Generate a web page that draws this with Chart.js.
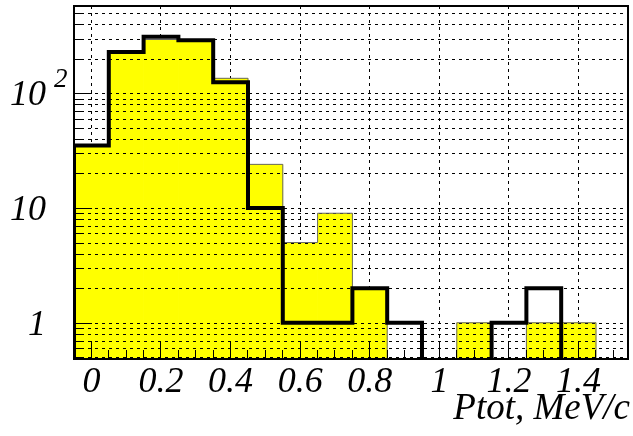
<!DOCTYPE html>
<html>
<head>
<meta charset="utf-8">
<script src="https://cdn.jsdelivr.net/npm/chart.js@4"></script>
<style>
  html, body { margin: 0; padding: 0; background: #fff; }
  canvas { display: block; }
</style>
</head>
<body>
<canvas id="c" width="633" height="436"></canvas>
<script>
// Momentum histogram: bin centres (MeV/c), bin width 0.1
const binCenters = [0, 0.1, 0.2, 0.3, 0.4, 0.5, 0.6, 0.7, 0.8, 0.9, 1.0, 1.1, 1.2, 1.3, 1.4, 1.5];
const binWidth = 0.1;
// Filled (yellow) histogram counts
const filledCounts = [35, 225, 294, 285, 135, 24, 5, 9, 2, 0, 0, 1, 0, 1, 1, 0];
// Outline (black) histogram counts
const outlineCounts = [35, 229, 311, 290, 125, 10, 1, 1, 2, 1, 0, 0, 1, 2, 0, 0];

// Axis ticks and labels
const xTickValues = [0, 0.2, 0.4, 0.6, 0.8, 1.0, 1.2, 1.4];
const xTickLabels = ['0', '0.2', '0.4', '0.6', '0.8', '1', '1.2', '1.4'];
const xMinorValues = [-0.05, 0.05, 0.1, 0.15, 0.25, 0.3, 0.35, 0.45, 0.5, 0.55, 0.65, 0.7, 0.75,
  0.85, 0.9, 0.95, 1.05, 1.1, 1.15, 1.25, 1.3, 1.35, 1.45, 1.5];
const yMajorValues = [1, 10, 100];
const yTickLabels = ['1', '10', '10'];
const yTickExponents = ['', '', '2'];
const xTitle = 'Ptot, MeV/c';
const xRange = [-0.05, 1.542];
const yRange = [0.483, 576];

// Log grid values: 1..9 times each decade inside the axis range
const yGridValues = [];
[0.1, 1, 10, 100].forEach(d => {
  for (let m = 1; m <= 9; m++) {
    const v = +(m * d).toPrecision(3);
    if (v >= yRange[0] && v <= yRange[1]) yGridValues.push(v);
  }
});

const LABEL_FONT = "italic 36px 'Liberation Serif', 'Times New Roman', serif";
const TITLE_FONT = "italic 37px 'Liberation Serif', 'Times New Roman', serif";
const EXP_FONT = "italic 27px 'Liberation Serif', 'Times New Roman', serif";

// Step contour of a histogram; empty bins drop below the axis and are clipped
const emptyLevel = yRange[0] / 10;
function contour(counts) {
  const pts = [{ x: binCenters[0] - binWidth / 2, y: emptyLevel }];
  binCenters.forEach((c, i) => {
    pts.push({ x: c - binWidth / 2, y: counts[i] > 0 ? counts[i] : emptyLevel });
  });
  const last = binCenters.length - 1;
  pts.push({ x: binCenters[last] + binWidth / 2, y: counts[last] > 0 ? counts[last] : emptyLevel });
  return pts;
}

const filledPoints = binCenters.map((c, i) => ({ x: c, y: filledCounts[i] > 0 ? filledCounts[i] : null }));

// Dashed horizontal grid, drawn over the filled histogram
function drawGrid(chart) {
  const ctx = chart.ctx;
  const a = chart.chartArea;
  const ys = chart.scales.y;
  const dash = 3, gap = 4;
  ctx.save();
  ctx.fillStyle = '#000';
  yGridValues.forEach(v => {
    const py = Math.round(ys.getPixelForValue(v));
    for (let xx = a.left; xx < a.right; xx += dash + gap) {
      ctx.fillRect(xx, py, Math.min(dash, a.right - xx), 1);
    }
  });
  ctx.restore();
}

// Inward tick marks along the bottom edge
function drawBottomTicks(chart) {
  const ctx = chart.ctx;
  const a = chart.chartArea;
  const xs = chart.scales.x;
  ctx.save();
  ctx.globalAlpha = 1;
  ctx.globalCompositeOperation = 'source-over';
  ctx.setLineDash([]);
  ctx.strokeStyle = '#000';
  ctx.lineWidth = 1;
  ctx.beginPath();
  const addTick = (v, len) => {
    const px = xs.left + (v - xs.min) / (xs.max - xs.min) * xs.width;
    const cx = (px | 0) + 0.5;
    ctx.moveTo(cx, a.bottom);
    ctx.lineTo(cx, a.bottom - len);
  };
  xTickValues.forEach(v => addTick(v, 18));
  xMinorValues.forEach(v => addTick(v, 9));
  ctx.stroke();
  ctx.restore();
}

// Frame, left ticks, tick labels and axis title
function drawAxes(chart) {
  const ctx = chart.ctx;
  const a = chart.chartArea;
  const xs = chart.scales.x;
  const ys = chart.scales.y;
  ctx.save();
  ctx.setLineDash([]);
  ctx.fillStyle = '#000';

  // left ticks
  yGridValues.forEach(v => {
    const major = yMajorValues.includes(v);
    const py = Math.round(ys.getPixelForValue(v));
    ctx.fillRect(a.left, py, major ? 18 : 10, 1);
  });

  // frame
  ctx.strokeStyle = '#000';
  ctx.lineWidth = 2;
  ctx.strokeRect(a.left, a.top, a.right - a.left, a.bottom - a.top);

  // labels
  ctx.font = LABEL_FONT;
  ctx.textBaseline = 'alphabetic';
  ctx.textAlign = 'center';
  xTickValues.forEach((v, i) => {
    ctx.fillText(xTickLabels[i], xs.getPixelForValue(v), a.bottom + 33);
  });
  yMajorValues.forEach((v, i) => {
    const py = ys.getPixelForValue(v);
    ctx.font = LABEL_FONT;
    ctx.textAlign = 'right';
    ctx.fillText(yTickLabels[i], 46, py + 12);
    if (yTickExponents[i]) {
      ctx.font = EXP_FONT;
      ctx.textAlign = 'left';
      ctx.fillText(yTickExponents[i], 54, py - 6);
    }
  });
  ctx.font = TITLE_FONT;
  ctx.textAlign = 'right';
  ctx.fillText(xTitle, 630, 419);
  ctx.restore();
}

const histPlugin = {
  id: 'histAxes',
  afterDatasetDraw(chart, args) {
    if (args.meta.type === 'bar') drawGrid(chart);
  },
  afterDatasetsDraw(chart) { drawBottomTicks(chart); },
  afterDraw(chart) { drawAxes(chart); }
};

const stepLine = {
  type: 'line',
  stepped: true,
  borderJoinStyle: 'miter',
  borderCapStyle: 'butt',
  pointRadius: 0,
  fill: false,
  clip: 0
};

new Chart(document.getElementById('c'), {
  type: 'bar',
  data: {
    datasets: [
      Object.assign({}, stepLine, {
        data: contour(outlineCounts),
        borderColor: '#000',
        borderWidth: 4,
        order: 0
      }),
      Object.assign({}, stepLine, {
        data: contour(filledCounts),
        borderColor: '#666666',
        borderWidth: 1,
        order: 1
      }),
      {
        type: 'bar',
        data: filledPoints,
        backgroundColor: '#ffff00',
        borderWidth: 0,
        barPercentage: 1,
        categoryPercentage: 1,
        order: 2
      }
    ]
  },
  options: {
    responsive: false,
    animation: false,
    events: [],
    layout: { padding: { left: 74, top: 6, right: 5, bottom: 77 } },
    plugins: { legend: { display: false }, tooltip: { enabled: false } },
    scales: {
      x: {
        type: 'linear', min: xRange[0], max: xRange[1], offset: false,
        z: 1,
        grid: { display: true, drawOnChartArea: true, drawTicks: false, offset: false, color: '#000', lineWidth: 1 },
        ticks: { display: false },
        border: { display: false, dash: [3, 4] },
        afterBuildTicks: s => { s.ticks = xTickValues.map(v => ({ value: v })); }
      },
      y: {
        type: 'logarithmic', min: yRange[0], max: yRange[1],
        grid: { display: false, drawTicks: false },
        ticks: { display: false },
        border: { display: false },
        afterBuildTicks: s => { s.ticks = yMajorValues.map(v => ({ value: v })); }
      }
    }
  },
  plugins: [histPlugin]
});
</script>
</body>
</html>
